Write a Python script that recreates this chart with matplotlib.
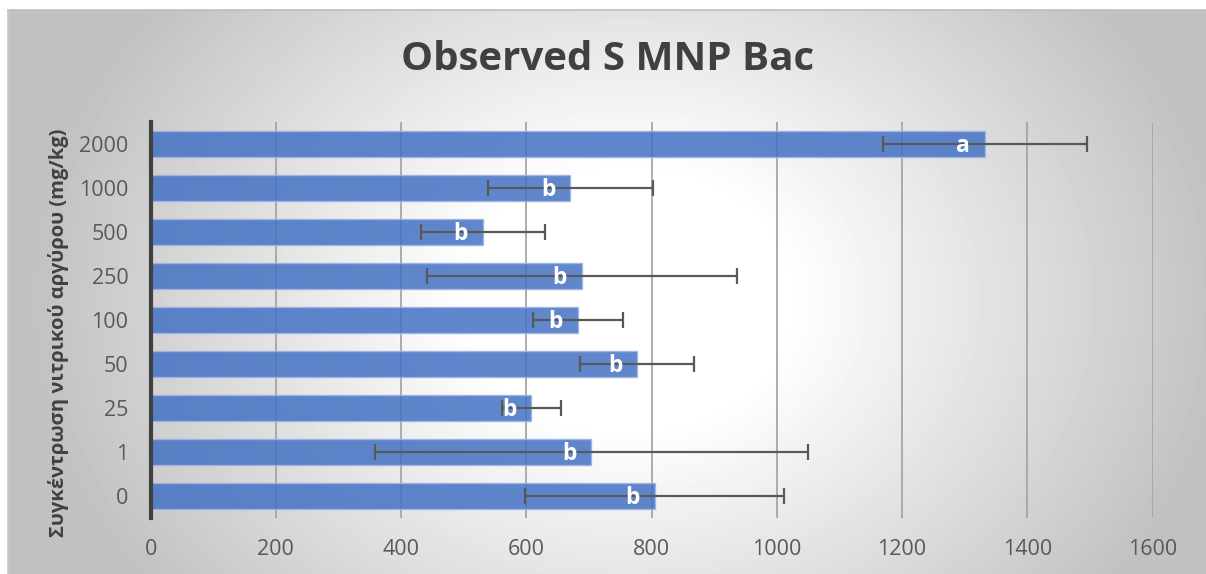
import numpy as np
import matplotlib
matplotlib.use('Agg')
import matplotlib.pyplot as plt

plt.rcParams['font.family'] = ['Open Sans', 'DejaVu Sans']

# silver nitrate concentrations, bottom to top
doses = ['0', '1', '25', '50', '100', '250', '500', '1000', '2000']
observed = [805, 704, 608, 777, 682, 689, 530, 670, 1332]
err = [207, 345, 47, 91, 72, 247, 99, 132, 163]
groups = ['b', 'b', 'b', 'b', 'b', 'b', 'b', 'b', 'a']
xticks = [0, 200, 400, 600, 800, 1000, 1200, 1400, 1600]

W, H = 1206, 574
fig = plt.figure(figsize=(W / 100, H / 100), dpi=100)
fig.patch.set_facecolor('white')

# radial grey background of the chart area
bg = fig.add_axes([8 / W, 0, 1 - 8 / W, 1 - 10 / H])
yy, xx = np.mgrid[0:564, 0:1198]
r = np.hypot(xx - 620, (yy - 290) * 1.25)
shade = 255 - 62 * np.clip((r - 160) / 440, 0, 1)
bg.imshow(shade, cmap='gray', vmin=0, vmax=255, aspect='auto', interpolation='bilinear')
bg.set_axis_off()
fig.add_artist(plt.Line2D([8 / W, 1], [1 - 10 / H, 1 - 10 / H], color='#bdbdbd', lw=1.2))
fig.add_artist(plt.Line2D([8 / W, 8 / W], [0, 1 - 10 / H], color='#c8c8c8', lw=1.2))

ax = fig.add_axes([150.6 / W, 56 / H, 1002 / W, 396 / H])
ax.patch.set_alpha(0)

y = np.arange(len(doses))
ax.barh(y, observed, height=0.59, color='#4472C4', alpha=0.85,
        edgecolor='#9db4e0', linewidth=1, zorder=2)
ax.errorbar(observed, y, xerr=err, fmt='none', ecolor='#595959',
            elinewidth=1.6, capsize=5.5, capthick=1.6, zorder=3)

for yi, v, g in zip(y, observed, groups):
    ax.annotate(g, (v, yi), xytext=(-16, -1.5), textcoords='offset points',
                ha='center', va='center', color='white', fontsize=16.5,
                fontweight='bold', zorder=4)

ax.set_xlim(0, 1600)
ax.set_ylim(-0.5, len(doses) - 0.5)
ax.set_xticks(xticks)
ax.set_yticks(y)
ax.set_yticklabels(doses)
ax.tick_params(axis='both', length=0, labelsize=15.5, labelcolor='#595959')
ax.tick_params(axis='x', pad=15)
ax.tick_params(axis='y', pad=16)
ax.grid(axis='x', color='#a6a6a6', linewidth=1.3, zorder=0)
ax.set_axisbelow(True)
for s in ['top', 'right', 'bottom']:
    ax.spines[s].set_visible(False)
ax.spines['left'].set_color('#404040')
ax.spines['left'].set_linewidth(3)
ax.spines['left'].set_zorder(5)

fig.text(608 / W, 1 - 60 / H, 'Observed S MNP Bac', ha='center', va='center',
         fontsize=29, fontweight='bold', color='#404040')
fig.text(59 / W, 1 - 333 / H, 'Συγκέντρωση νιτρικού αργύρου (mg/kg)', rotation=90,
         ha='center', va='center', fontsize=14.5, fontweight='bold', color='#404040')

fig.savefig('out.png', dpi=100)
